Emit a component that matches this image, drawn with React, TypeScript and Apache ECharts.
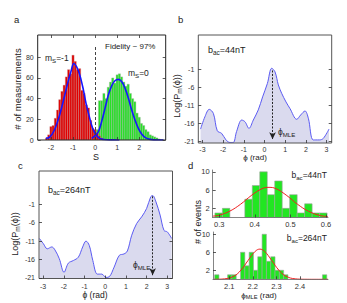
import React, { useEffect, useRef } from 'react';
import * as echarts from 'echarts';

const FONT = '"Liberation Sans", Arial, Helvetica, sans-serif';
const INK = '#222';

// ---------- panel a : readout histograms ----------
const aBinWidth = 0.1;
const redBinStart = -2.25;
const redCounts = [2, 5, 13, 14, 21, 29, 39, 47, 53, 61, 68, 64, 82, 76, 68, 69, 48, 45, 34, 31, 19, 11, 10, 7, 4, 2];
const greenBinStart = -0.15;
const greenCounts = [3, 6, 10, 38, 38, 45, 40, 51, 56, 60, 55, 63, 64, 61, 56, 52, 54, 45, 40, 37, 26, 22, 16, 14, 10, 8, 5, 4, 3, 2, 1];
const redFitS = [-2.22, -2.07, -1.84, -1.61, -1.39, -1.24, -1.09, -0.96, -0.84, -0.71, -0.56, -0.41, -0.26, -0.11, 0.05, 0.2, 0.4, 0.7, 1.1];
const redFitN = [1.8, 2.6, 9.7, 24, 42, 55, 66.5, 74, 71, 64, 51.5, 35.4, 22.5, 11.3, 4.8, 1.6, 0.5, 0.1, 0];
const greenFitS = [-0.15, 0.0, 0.15, 0.3, 0.45, 0.6, 0.75, 0.9, 1.06, 1.21, 1.36, 1.51, 1.66, 1.81, 1.96, 2.11, 2.26, 2.49, 2.87, 3.1];
const greenFitN = [1.6, 4.2, 8, 18, 30.6, 43.5, 52.2, 57.3, 58.6, 56.3, 49.9, 40.3, 29, 19.3, 11.3, 5.8, 2.6, 0.6, 0, 0];
const aXTicks = [-2, -1, 0, 1, 2];
const aYTicks = [0, 20, 40, 60, 80];
const thresholdS = 0;
const thresholdTop = 90;

// ---------- panels b, c : log-likelihood ----------
const phiTicks = [-3, -2, -1, 0, 1, 2, 3];
const logTicks = [-21, -16, -11, -6, -1];
const bPhi = [-3.09, -2.88, -2.67, -2.47, -2.28, -2.07, -1.86, -1.67, -1.51, -1.35, -1.1, -0.94, -0.75, -0.54, -0.3, -0.09, 0.14, 0.35, 0.51, 0.67, 0.83, 1.04, 1.23, 1.56, 1.75, 1.96, 2.12, 2.36, 2.65, 2.84, 3.12];
const bLog = [-17.5, -14.1, -12.05, -13.2, -18.0, -18.7, -20.5, -21.2, -21.2, -18.2, -15.0, -15.5, -17.3, -15.0, -12.2, -8.6, -4.9, -0.7, -1.7, -5.3, -7.6, -10.0, -11.8, -14.8, -13.6, -12.5, -14.5, -20.5, -20.5, -20.1, -17.5];
const bMLE = 0.39;
const bMLETop = -1.3;
const cPhi = [-3.18, -2.99, -2.8, -2.58, -2.43, -2.22, -1.99, -1.78, -1.54, -1.3, -1.09, -0.93, -0.77, -0.6, -0.38, -0.17, 0.04, 0.2, 0.43, 0.68, 0.91, 1.07, 1.28, 1.52, 1.76, 2.0, 2.2, 2.29, 2.45, 2.65, 2.84, 3.0, 3.21];
const cLog = [-10.3, -11.7, -13.1, -12.6, -13.4, -15.8, -19.5, -17.0, -16.3, -15.4, -12.6, -11.0, -12.2, -16.3, -20.0, -20.0, -20.9, -20.7, -18.1, -14.9, -14.5, -13.7, -9.4, -6.2, -4.4, -2.1, 1.1, 1.4, -0.3, -3.9, -8.1, -8.5, -10.3];
const cMLE = 2.29;
const cMLETop = 1.2;
const arrowBottom = -20.3;

// ---------- panel d : MLE histograms ----------
const d1BinStart = 0.288;
const d1BinWidth = 0.021;
const d1Counts = [1, 2, 0, 0, 4, 7, 10, 5, 8, 2, 5, 1, 3, 1, 1];
const d1FitX = [0.282, 0.3, 0.33, 0.36, 0.39, 0.42, 0.44, 0.46, 0.49, 0.52, 0.55, 0.58, 0.605];
const d1FitY = [0.3, 0.5, 1.4, 2.9, 4.8, 6.3, 6.6, 6.3, 4.8, 2.9, 1.4, 0.5, 0.2];
const d2BinStart = 2.038;
const d2BinWidth = 0.0183;
const d2Counts = [1, 0, 0, 1, 1, 0, 6, 3, 6, 2, 5, 10, 4, 5, 2, 2, 1, 0, 0, 0, 0, 0, 0, 0, 0, 1];
const d2FitX = [2.035, 2.08, 2.12, 2.15, 2.18, 2.21, 2.23, 2.25, 2.28, 2.31, 2.34, 2.38, 2.42, 2.46, 2.519];
const d2FitY = [0, 0.1, 0.7, 2.05, 4.2, 6.2, 6.7, 6.2, 4.2, 2.05, 0.7, 0.1, 0.01, 0, 0];
const d1XTicks = [0.3, 0.4, 0.5, 0.6];
const d2XTicks = [2.1, 2.2, 2.3, 2.4];
const dYTicks = [2, 6, 10];

const bins = (start: number, w: number, counts: number[]) =>
  counts.map((c, i) => [start + i * w, start + (i + 1) * w, c]);
const pairs = (xs: number[], ys: number[]) => xs.map((x, i) => [x, ys[i]]);

const histSeries = (xi: number, yi: number, data: number[][], fill: string, stroke: string, lw: number, extra: any = {}) => ({
  type: 'custom',
  xAxisIndex: xi,
  yAxisIndex: yi,
  data,
  clip: true,
  z: 2,
  encode: { x: [0, 1], y: 2 },
  renderItem: (_p: any, api: any) => {
    const h = api.value(2);
    if (!h) return { type: 'group', children: [] };
    const p0 = api.coord([api.value(0), h]);
    const p1 = api.coord([api.value(1), 0]);
    return {
      type: 'rect',
      shape: { x: p0[0], y: p0[1], width: p1[0] - p0[0], height: p1[1] - p0[1] },
      style: { fill, stroke, lineWidth: lw },
    };
  },
  ...extra,
});

const lineSeries = (xi: number, yi: number, data: number[][], color: string, width: number, smooth: number, extra: any = {}) => ({
  type: 'line',
  xAxisIndex: xi,
  yAxisIndex: yi,
  data,
  smooth,
  symbol: 'none',
  z: 3,
  lineStyle: { color, width },
  ...extra,
});

const tick = (vals: number[]) => ({
  show: true,
  inside: true,
  length: 3,
  customValues: vals,
  lineStyle: { color: '#333', width: 0.8 },
});
const label = (vals: number[], margin: number, fontSize = 7, formatter?: any) => ({
  show: true,
  customValues: vals,
  margin,
  fontSize,
  color: '#333',
  fontFamily: FONT,
  ...(formatter ? { formatter } : {}),
});
const noLine = { show: false, onZero: false };
const noSplit = { show: false };
const dLine = { show: true, onZero: false, lineStyle: { color: '#666', width: 0.8 } };

const subRich = (size: number) => ({
  n: { fontSize: size, fontFamily: FONT, fill: INK, color: INK, lineHeight: size * 1.3 },
  s: { fontSize: size * 0.72, fontFamily: FONT, fill: INK, color: INK, lineHeight: size * 0.62, verticalAlign: 'bottom' },
});

const txt = (x: number, y: number, text: string, size: number, opts: any = {}) => ({
  type: 'text',
  x,
  y,
  rotation: opts.rot || 0,
  z: 10,
  style: {
    text,
    fontSize: size,
    fontFamily: FONT,
    fill: INK,
    align: opts.align || 'left',
    textAlign: opts.align || 'left',
    verticalAlign: 'middle',
    textVerticalAlign: 'middle',
    ...(opts.rich ? { rich: subRich(size) } : {}),
  },
});

const sub = (a: string, s: string, b: string) => `{n|${a}}{s|${s}}{n|${b}}`;

const arrowLine = (x: number, top: number) => ({
  silent: true,
  symbol: ['none', 'arrow'],
  symbolSize: [5, 7],
  label: { show: false },
  lineStyle: { color: '#222', width: 1, type: [2, 1.5] },
  data: [[{ coord: [x, top] }, { coord: [x, arrowBottom] }]],
});

export default function App() {
  const ref = useRef<HTMLDivElement>(null);
  useEffect(() => {
    if (!ref.current) return;
    const chart = echarts.init(ref.current, undefined, { renderer: 'svg' });
    const option: any = {
      animation: false,
      backgroundColor: '#fff',
      grid: [
        { left: 37.7, top: 35, width: 128, height: 105, show: true, borderColor: '#222', borderWidth: 1, z: 5 },
        { left: 198.3, top: 35, width: 133.4, height: 108, show: true, borderColor: '#555', borderWidth: 1, z: 5 },
        { left: 39, top: 171, width: 133.5, height: 107.5, show: true, borderColor: '#555', borderWidth: 1, z: 5 },
        { left: 212.7, top: 170, width: 115.3, height: 47.5 },
        { left: 213, top: 232, width: 115, height: 47.3 },
      ],
      xAxis: [
        { gridIndex: 0, type: 'value', min: -2.6, max: 3.2, z: 6, axisLine: noLine, splitLine: noSplit, axisTick: tick(aXTicks), axisLabel: label(aXTicks, 4) },
        { gridIndex: 0, type: 'value', position: 'top', min: -2.6, max: 3.2, z: 6, axisLine: noLine, splitLine: noSplit, axisTick: tick(aXTicks), axisLabel: { show: false } },
        { gridIndex: 1, type: 'value', min: -3.2, max: 3.25, z: 6, axisLine: noLine, splitLine: noSplit, axisTick: tick(phiTicks), axisLabel: label(phiTicks, 3) },
        { gridIndex: 2, type: 'value', min: -3.2, max: 3.25, z: 6, axisLine: noLine, splitLine: noSplit, axisTick: tick(phiTicks), axisLabel: label(phiTicks, 4) },
        { gridIndex: 3, type: 'value', min: 0.2818, max: 0.6056, z: 6, axisLine: dLine, splitLine: noSplit, axisTick: tick(d1XTicks), axisLabel: label(d1XTicks, 3, 7.5, (v: number) => v.toFixed(1)) },
        { gridIndex: 4, type: 'value', min: 2.031, max: 2.519, z: 6, axisLine: dLine, splitLine: noSplit, axisTick: tick(d2XTicks), axisLabel: label(d2XTicks, 3, 7.5, (v: number) => v.toFixed(1)) },
      ],
      yAxis: [
        { gridIndex: 0, type: 'value', min: 0, max: 101.5, z: 6, axisLine: noLine, splitLine: noSplit, axisTick: tick(aYTicks), axisLabel: label(aYTicks, 4) },
        { gridIndex: 0, type: 'value', position: 'right', min: 0, max: 101.5, z: 6, axisLine: noLine, splitLine: noSplit, axisTick: tick(aYTicks), axisLabel: { show: false } },
        { gridIndex: 1, type: 'value', min: -21.35, max: 8.5, z: 6, axisLine: noLine, splitLine: noSplit, axisTick: tick(logTicks), axisLabel: label(logTicks, 4) },
        { gridIndex: 1, type: 'value', position: 'right', min: -21.35, max: 8.5, z: 6, axisLine: noLine, splitLine: noSplit, axisTick: tick(logTicks), axisLabel: { show: false } },
        { gridIndex: 2, type: 'value', min: -21.2, max: 8.1, z: 6, axisLine: noLine, splitLine: noSplit, axisTick: tick(logTicks), axisLabel: label(logTicks, 4) },
        { gridIndex: 2, type: 'value', position: 'right', min: -21.2, max: 8.1, z: 6, axisLine: noLine, splitLine: noSplit, axisTick: tick(logTicks), axisLabel: { show: false } },
        { gridIndex: 3, type: 'value', min: 0, max: 10.4, z: 6, axisLine: dLine, splitLine: noSplit, axisTick: tick(dYTicks), axisLabel: label(dYTicks, 3, 7.5) },
        { gridIndex: 4, type: 'value', min: 0, max: 10.5, z: 6, axisLine: dLine, splitLine: noSplit, axisTick: tick(dYTicks), axisLabel: label(dYTicks, 3, 7.5) },
      ],
      series: [
        histSeries(0, 0, bins(greenBinStart, aBinWidth, greenCounts), '#27e127', 'rgba(170,170,170,0.9)', 0.4),
        histSeries(0, 0, bins(redBinStart, aBinWidth, redCounts), '#e00000', 'rgba(190,150,150,0.9)', 0.4, {
          markLine: {
            silent: true,
            symbol: ['none', 'none'],
            label: { show: false },
            lineStyle: { color: '#444', width: 1, type: [3, 2] },
            data: [[{ coord: [thresholdS, 0] }, { coord: [thresholdS, thresholdTop] }]],
          },
        }),
        lineSeries(0, 0, pairs(redFitS, redFitN), '#1515ff', 1.6, 0.4),
        lineSeries(0, 0, pairs(greenFitS, greenFitN), '#1515ff', 1.6, 0.4),
        lineSeries(2, 2, pairs(bPhi, bLog), '#5a5af2', 1, 0.35, {
          areaStyle: { color: '#dadaee', opacity: 1, origin: 'start' },
          markLine: arrowLine(bMLE, bMLETop),
        }),
        lineSeries(3, 4, pairs(cPhi, cLog), '#5a5af2', 1, 0.35, {
          areaStyle: { color: '#dadaee', opacity: 1, origin: 'start' },
          markLine: arrowLine(cMLE, cMLETop),
        }),
        histSeries(4, 6, bins(d1BinStart, d1BinWidth, d1Counts), '#22e622', '#a0a0a0', 0.6),
        lineSeries(4, 6, pairs(d1FitX, d1FitY), '#ee2020', 1, 0.4),
        histSeries(5, 7, bins(d2BinStart, d2BinWidth, d2Counts), '#22e622', '#a0a0a0', 0.6),
        lineSeries(5, 7, pairs(d2FitX, d2FitY), '#ee2020', 1, 0.4),
      ],
      graphic: [
        txt(14, 19, 'a', 9.5),
        txt(178, 19, 'b', 9.5),
        txt(18, 165, 'c', 9.5),
        txt(188, 165, 'd', 9.5),
        // panel a
        txt(17, 89, '# of measurements', 9.5, { align: 'center', rot: Math.PI / 2 }),
        txt(96, 156.5, 'S', 9, { align: 'center' }),
        txt(105, 46, 'Fidelity ~ 97%', 8),
        txt(45, 58, sub('m', 'S', '=-1'), 8.5, { rich: true }),
        txt(128, 73, sub('m', 'S', '=0'), 8.5, { rich: true }),
        // panel b
        txt(208, 50, sub('b', 'ac', '=44nT'), 9, { rich: true }),
        txt(177, 96, sub('Log(P', 'm', '(ϕ))'), 9, { rich: true, align: 'center', rot: Math.PI / 2 }),
        txt(255, 157.5, 'ϕ (rad)', 8, { align: 'center' }),
        txt(278, 131.5, sub('ϕ', 'MLE', ''), 8.5, { rich: true }),
        // panel c
        txt(48, 190, sub('b', 'ac', '=264nT'), 9, { rich: true }),
        txt(15, 234, sub('Log(P', 'm', '(ϕ))'), 9, { rich: true, align: 'center', rot: Math.PI / 2 }),
        txt(95, 295, 'ϕ (rad)', 8.5, { align: 'center' }),
        txt(133, 265, sub('ϕ', 'MLE', ''), 8.5, { rich: true }),
        // panel d
        txt(327, 175, sub('b', 'ac', '=44nT'), 8.5, { rich: true, align: 'right' }),
        txt(327, 237.5, sub('b', 'ac', '=264nT'), 8.5, { rich: true, align: 'right' }),
        txt(198, 222, '# of events', 9, { align: 'center', rot: Math.PI / 2 }),
        txt(259, 295, sub('ϕ', 'MLE', ' (rad)'), 8, { rich: true, align: 'center' }),
      ],
    };
    chart.setOption(option);
    return () => chart.dispose();
  }, []);
  return <div ref={ref} style={{ position: 'fixed', left: 0, top: 0, width: 347, height: 303 }} />;
}
